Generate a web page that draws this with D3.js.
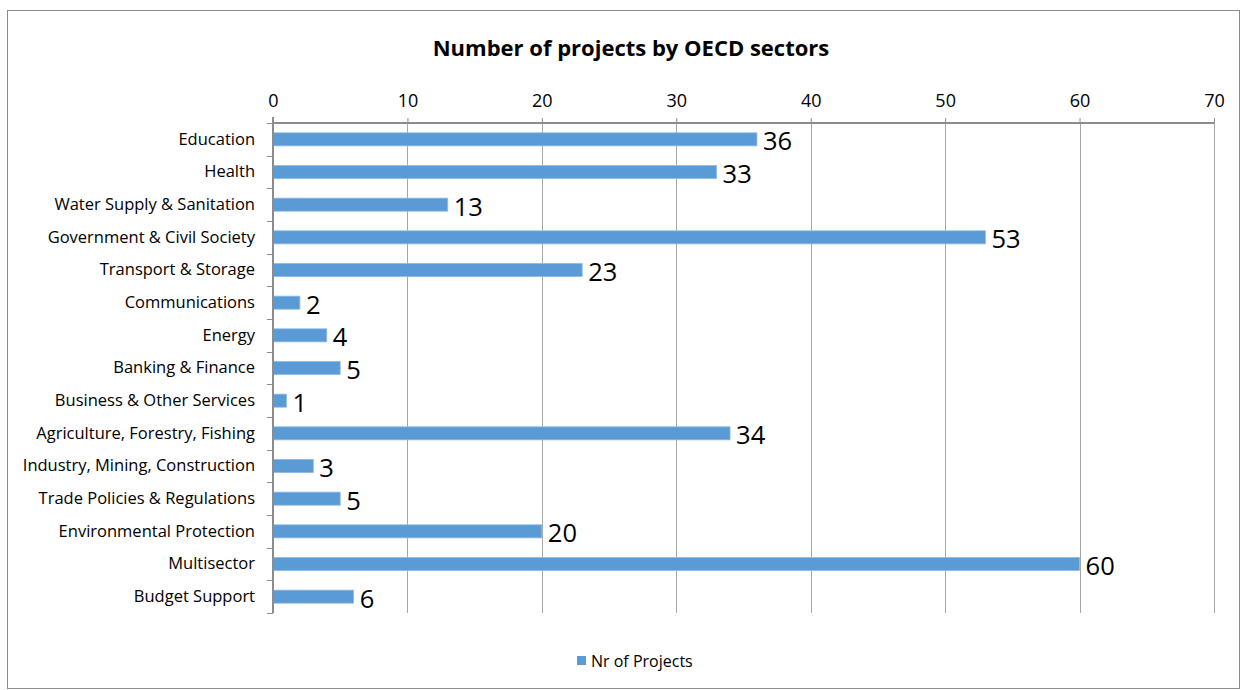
<!DOCTYPE html>
<html>
<head>
<meta charset="utf-8">
<script src="https://cdn.jsdelivr.net/npm/d3@7"></script>
<style>
  body { margin: 0; background: #fff; }
  text { font-family: "Open Sans", sans-serif; fill: #000; }
</style>
</head>
<body>
<div id="chart"></div>
<script>
// Sectors, top to bottom
const sectors = [
  "Education", "Health", "Water Supply & Sanitation", "Government & Civil Society",
  "Transport & Storage", "Communications", "Energy", "Banking & Finance",
  "Business & Other Services", "Agriculture, Forestry, Fishing",
  "Industry, Mining, Construction", "Trade Policies & Regulations",
  "Environmental Protection", "Multisector", "Budget Support"
];
const projects = [36, 33, 13, 53, 23, 2, 4, 5, 1, 34, 3, 5, 20, 60, 6];
const xTicks = [0, 10, 20, 30, 40, 50, 60, 70];
const seriesName = "Nr of Projects";
const chartTitle = "Number of projects by OECD sectors";

const width = 1241, height = 690;
const plotLeft = 273, plotRight = 1214, plotTop = 123, plotBottom = 613;
const barColor = "#5b9bd5";
const font = "'Open Sans', sans-serif";

const svg = d3.select("#chart").append("svg")
  .attr("width", width).attr("height", height);

// outer frame
svg.append("rect")
  .attr("x", 7.5).attr("y", 10.5)
  .attr("width", width - 9).attr("height", height - 12)
  .attr("fill", "none").attr("stroke", "#8c8c8c");

svg.append("text")
  .attr("x", 631).attr("y", 56)
  .attr("text-anchor", "middle")
  .style("font-size", "22px").style("font-weight", "bold")
  .text(chartTitle);

const x = d3.scaleLinear().domain([0, 70]).range([plotLeft, plotRight]);
const y = d3.scaleBand().domain(sectors).range([plotTop, plotBottom]);

// vertical gridlines
svg.append("g").selectAll("line")
  .data(xTicks.slice(1))
  .join("line")
  .attr("x1", d => Math.round(x(d)) + 0.5).attr("x2", d => Math.round(x(d)) + 0.5)
  .attr("y1", plotTop).attr("y2", plotBottom)
  .attr("stroke", "#a6a6a6").attr("stroke-width", 1);

// top axis
const xAxis = svg.append("g")
  .attr("transform", `translate(0,${plotTop})`)
  .call(d3.axisTop(x).tickValues(xTicks).tickSize(5).tickPadding(11));
xAxis.select(".domain").attr("stroke", "#8c8c8c").attr("stroke-width", 2)
  .attr("d", `M${plotLeft},0H${plotRight}`);
xAxis.selectAll(".tick line").attr("stroke", "#8c8c8c");
xAxis.selectAll(".tick text").style("font-size", "18px").style("font-family", font);

// bars
svg.append("g").selectAll("rect")
  .data(projects)
  .join("rect")
  .attr("x", plotLeft)
  .attr("y", (d, i) => y(sectors[i]) + y.bandwidth() * 0.3)
  .attr("width", d => x(d) - x(0))
  .attr("height", y.bandwidth() * 0.4)
  .attr("fill", barColor)
  .attr("stroke", "#8fbde6").attr("stroke-width", 0.8);

// data labels
svg.append("g").selectAll("text")
  .data(projects)
  .join("text")
  .attr("x", d => x(d) + 6)
  .attr("y", (d, i) => y(sectors[i]) + y.bandwidth() / 2 + 11)
  .style("font-size", "25.5px")
  .text(d => d);

// left category axis
const yAxis = svg.append("g")
  .attr("transform", `translate(${plotLeft},0)`)
  .call(d3.axisLeft(y).tickSize(0).tickPadding(18));
yAxis.select(".domain").remove();
yAxis.selectAll(".tick text").style("font-size", "16.5px").style("font-family", font);

svg.append("line")
  .attr("x1", plotLeft).attr("x2", plotLeft)
  .attr("y1", plotTop - 6).attr("y2", plotBottom)
  .attr("stroke", "#8c8c8c").attr("stroke-width", 2);

const boundaries = sectors.map(s => y(s)).concat([plotBottom]);
svg.append("g").selectAll("line")
  .data(boundaries)
  .join("line")
  .attr("x1", plotLeft - 6).attr("x2", plotLeft)
  .attr("y1", d => Math.round(d) + 0.5).attr("y2", d => Math.round(d) + 0.5)
  .attr("stroke", "#8c8c8c").attr("stroke-width", 1);

// legend
const legend = svg.append("g").attr("transform", "translate(577,656)");
legend.append("rect").attr("width", 9).attr("height", 9).attr("fill", barColor);
legend.append("text").attr("x", 14).attr("y", 10.5).style("font-size", "16px").text(seriesName);
</script>
</body>
</html>
